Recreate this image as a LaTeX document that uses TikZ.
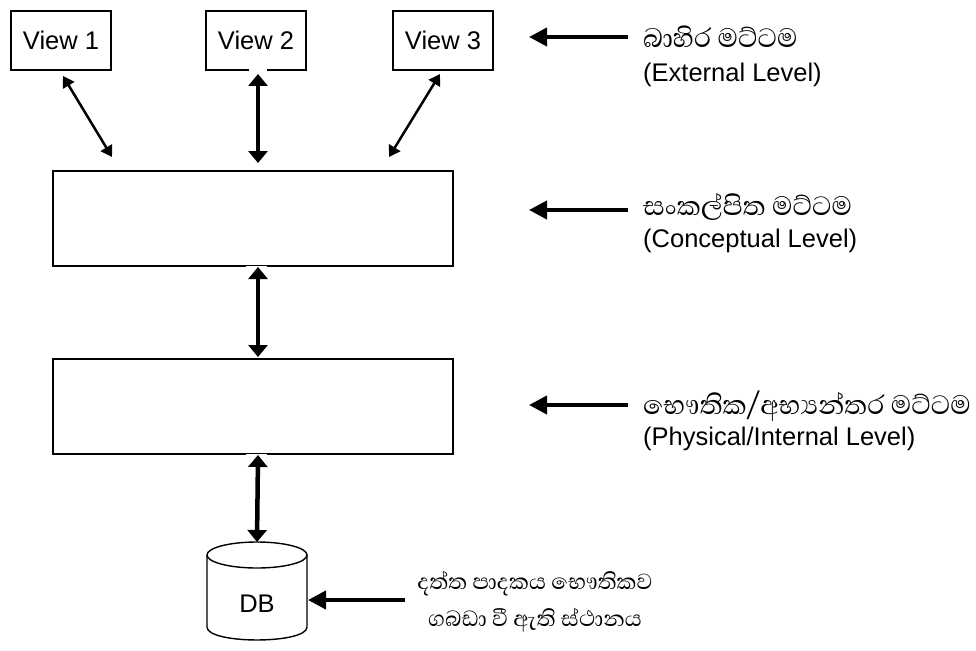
\documentclass[tikz,border=0pt]{standalone}
\usepackage{fontspec}
\setmainfont{Liberation Sans}
\newfontfamily\sinhala[Script=Sinhala]{Abhaya Libre}
\usetikzlibrary{arrows.meta,calc}
\begin{document}
\begin{tikzpicture}[x=1pt,y=-1pt,
  every node/.style={font=\fontsize{25.5}{30}\selectfont},
  viewbox/.style={draw,line width=2pt,inner sep=0pt,anchor=north west,
    minimum width=100pt,minimum height=59pt},
  levelbox/.style={draw,line width=2pt,inner sep=0pt,anchor=north west,
    minimum width=400pt,minimum height=95pt},
  lbl/.style={anchor=west,inner sep=0pt},
  sin/.style={anchor=base west,inner sep=0pt,font=\sinhala\fontsize{34}{40}\selectfont},
  sinc/.style={anchor=base,inner sep=0pt,font=\sinhala\fontsize{28}{34}\selectfont},
  thinlink/.style={line width=2.5pt,
    {Triangle[width=13pt,length=11pt]}-{Triangle[width=13pt,length=11pt]}},
  thicklink/.style={line width=4.5pt,
    {Triangle[width=19pt,length=12pt]}-{Triangle[width=19pt,length=12pt]}},
  pointer/.style={line width=4pt,-{Triangle[width=18pt,length=18pt]}},
  gap/.style={fill=white}
]
\useasboundingbox (0,0) rectangle (976,650);

% external views
\node[viewbox] (v1) at (10,10) {View 1};
\node[viewbox] (v2) at (205,10) {View 2};
\node[viewbox] (v3) at (392,10) {\raisebox{-3pt}{View 3}};

% conceptual and physical levels
\node[levelbox] (cl) at (52,170) {};
\node[levelbox] (pl) at (52,358) {};

% database cylinder
\node (db) at (257,604) {DB};
\coordinate (dbtop) at (257,542);
\coordinate (dbright) at (308,600);
\draw[line width=1.4pt] (257,555) ellipse [x radius=50, y radius=13];
\draw[line width=1.4pt] (207,555) -- (207,627)
  .. controls (207,644.3) and (307,644.3) .. (307,627) -- (307,555);

% small openings in the borders under the upper arrow tips
\fill[gap] ($(v2.south)+(-7,-1.5)$) rectangle ++(18,3);
\fill[gap] ($(cl.south)+(-7,-1.5)$) rectangle ++(21,3);
\fill[gap] ($(pl.south)+(-7,-1.5)$) rectangle ++(21,3);

% links between the levels
\draw[thinlink] ($(v1.south)+(2,5)$) -- ($(cl.north west)+(60,-13)$);
\draw[thicklink] ($(v2.south)+(2,3)$) -- ($(cl.north)+(5,-7)$);
\draw[thinlink] ($(v3.south)+(-3,3)$) -- ($(cl.north)+(136,-13)$);
\draw[thicklink] ($(cl.south)+(5,0)$) -- ($(pl.north)+(5,-1)$);
\draw[thicklink] ($(pl.south)+(5,0)$) -- (dbtop);

% level captions
\node[sin] (s1) at (643,48) {බාහිර මට්ටම};
\node[lbl] (e1) at (643,75) {(External Level)};
\node[sin] (s2) at (643,215) {සංකල්පිත මට්ටම};
\node[lbl] (e2) at (643,241) {(Conceptual Level)};
\node[sin] (s3) at (643,414) {භෞතික/අභ්‍යන්තර මට්ටම};
\node[lbl] (e3) at (643,439) {(Physical/Internal Level)};
\node[sinc] (d1) at (535,589) {දත්ත පාදකය භෞතිකව};
\node[sinc] (d2) at (535,626) {ගබඩා වී ඇති ස්ථානය};

% pointers to each level
\draw[pointer] (628,37) -- (529,37);
\draw[pointer] (628,210) -- (529,210);
\draw[pointer] (628,405) -- (529,405);
\draw[pointer] (405,600) -- (dbright);
\end{tikzpicture}
\end{document}
